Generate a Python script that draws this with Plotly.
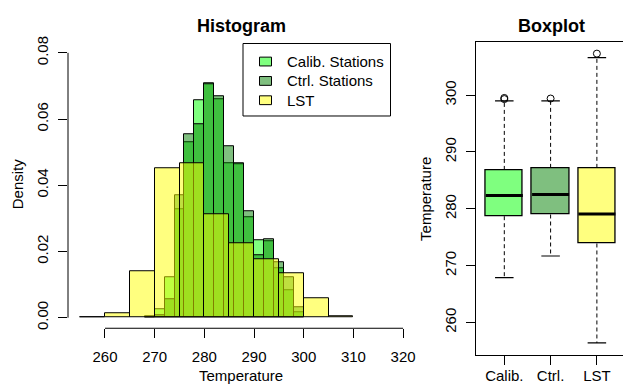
import plotly.graph_objects as go

# ---------------- data ----------------
green_bins = [268, 270, 272, 274, 276, 278, 280, 282, 284, 286, 288, 290, 292, 294, 296, 298]
green_width = 2
calib_density = [0.0003, 0.0025, 0.0122, 0.0329, 0.0530, 0.0656, 0.0707, 0.0660,
                 0.0468, 0.0463, 0.0303, 0.0233, 0.0232, 0.0150, 0.0082, 0.0015]
ctrl_density = [0.0, 0.0008, 0.0057, 0.0369, 0.0554, 0.0585, 0.0705, 0.0668,
                0.0517, 0.0465, 0.0320, 0.0190, 0.0237, 0.0168, 0.0121, 0.0030]
lst_bins = [255, 260, 265, 270, 275, 280, 285, 290, 295, 300, 305]
lst_width = 5
lst_density = [0.0001, 0.0013, 0.0139, 0.0450, 0.0467, 0.0312, 0.0224, 0.0177, 0.0133, 0.0060, 0.0003]

hist_xticks = [260, 270, 280, 290, 300, 310, 320]
hist_yticks = [0.00, 0.02, 0.04, 0.06, 0.08]

box_names = ["Calib.", "Ctrl.", "LST"]
box_lower = [267.9, 271.7, 256.4]
box_q1 = [278.7, 279.0, 273.9]
box_median = [282.35, 282.5, 279.1]
box_q3 = [286.84, 287.2, 287.2]
box_upper = [299.0, 299.0, 306.6]
box_outliers = [[299.3, 299.5], [299.4], [307.3]]
box_yticks = [260, 270, 280, 290, 300]

legend_names = ["Calib. Stations", "Ctrl. Stations", "LST"]
colors = ["rgba(0,255,0,0.5)", "rgba(0,128,0,0.5)", "rgba(255,255,0,0.5)"]

W, H = 623, 390
FONT = "Liberation Sans, Arial, sans-serif"


def px_x(p):
    return p / W


def px_y(p):
    return 1 - p / H


fig = go.Figure()

# ---------------- histogram ----------------
for bins, width, dens, name, col in [
    (green_bins, green_width, calib_density, legend_names[0], colors[0]),
    (green_bins, green_width, ctrl_density, legend_names[1], colors[1]),
    (lst_bins, lst_width, lst_density, legend_names[2], colors[2]),
]:
    fig.add_trace(go.Bar(
        x=[b + width / 2 for b in bins], y=dens, width=width,
        marker=dict(color=col, line=dict(color="black", width=1)),
        name=name, showlegend=False, xaxis="x", yaxis="y", hoverinfo="skip"))

# ---------------- boxplot ----------------
pos = [i + 1 for i in range(len(box_names))]
box_w = 0.8
cap_w = 0.4
fig.add_trace(go.Bar(
    x=pos, base=box_q1, y=[q3 - q1 for q1, q3 in zip(box_q1, box_q3)], width=box_w,
    marker=dict(color=colors, line=dict(color="black", width=1.3)),
    showlegend=False, xaxis="x2", yaxis="y2", hoverinfo="skip"))

wx, wy = [], []
for p, lo, q1, q3, up in zip(pos, box_lower, box_q1, box_q3, box_upper):
    wx += [p, p, None, p, p, None]
    wy += [q3, up, None, q1, lo, None]
fig.add_trace(go.Scatter(x=wx, y=wy, mode="lines",
                         line=dict(color="black", width=1, dash="4px,3px"),
                         showlegend=False, xaxis="x2", yaxis="y2", hoverinfo="skip"))

cx, cy = [], []
for p, lo, up in zip(pos, box_lower, box_upper):
    cx += [p - cap_w / 2, p + cap_w / 2, None, p - cap_w / 2, p + cap_w / 2, None]
    cy += [up, up, None, lo, lo, None]
fig.add_trace(go.Scatter(x=cx, y=cy, mode="lines", line=dict(color="black", width=1.2),
                         showlegend=False, xaxis="x2", yaxis="y2", hoverinfo="skip"))

mx, my = [], []
for p, m in zip(pos, box_median):
    mx += [p - box_w / 2, p + box_w / 2, None]
    my += [m, m, None]
fig.add_trace(go.Scatter(x=mx, y=my, mode="lines", line=dict(color="black", width=3),
                         showlegend=False, xaxis="x2", yaxis="y2", hoverinfo="skip"))

ox, oy = [], []
for p, outs in zip(pos, box_outliers):
    for o in outs:
        ox.append(p)
        oy.append(o)
fig.add_trace(go.Scatter(x=ox, y=oy, mode="markers",
                         marker=dict(symbol="circle-open", size=7, color="black", line=dict(width=1)),
                         showlegend=False, xaxis="x2", yaxis="y2", hoverinfo="skip"))

# ---------------- layout ----------------
tickfont = dict(family=FONT, size=15, color="black")
hist_dom_x = [px_x(68), px_x(416)]
hist_dom_y = [px_y(329), px_y(37)]
box_dom_x = [px_x(475.6), 1.0]
box_dom_y = [px_y(356.5), px_y(37)]

fig.update_layout(
    width=W, height=H, margin=dict(l=0, r=0, t=0, b=0),
    paper_bgcolor="white", plot_bgcolor="white",
    barmode="overlay", bargap=0,
    font=dict(family=FONT, size=15, color="black"),
    showlegend=False,
    xaxis=dict(domain=hist_dom_x, range=[252.56, 322.6], anchor="y",
               tickvals=hist_xticks, ticks="outside", ticklen=9, tickcolor="black",
               showline=False, showgrid=False, zeroline=False, tickfont=tickfont,
               ticklabelstandoff=6),
    yaxis=dict(domain=hist_dom_y, range=[-0.0032, 0.0832], anchor="x",
               tickvals=hist_yticks, tickformat=".2f", ticks="outside", ticklen=9,
               tickcolor="black", tickangle=-90, showline=False, showgrid=False,
               zeroline=False, tickfont=tickfont, ticklabelstandoff=4),
    xaxis2=dict(domain=box_dom_x, range=[0.38, 3.564], anchor="y2",
                tickvals=pos, ticktext=box_names, ticks="outside", ticklen=9,
                tickcolor="black", showline=True, linecolor="black", linewidth=1,
                mirror=True, showgrid=False, zeroline=False, tickfont=tickfont,
                ticklabelstandoff=-2),
    yaxis2=dict(domain=box_dom_y, range=[254.25, 309.3], anchor="x2",
                tickvals=box_yticks, ticks="outside", ticklen=9, tickcolor="black",
                tickangle=-90, showline=True, linecolor="black", linewidth=1,
                mirror=False, showgrid=False, zeroline=False, tickfont=tickfont,
                ticklabelstandoff=4),
)

# R-style axis lines spanning first to last tick only
fig.add_shape(type="line", xref="x", yref="paper", x0=hist_xticks[0], x1=hist_xticks[-1],
              y0=hist_dom_y[0], y1=hist_dom_y[0], line=dict(color="black", width=1))
fig.add_shape(type="line", xref="paper", yref="y", x0=hist_dom_x[0], x1=hist_dom_x[0],
              y0=hist_yticks[0], y1=hist_yticks[-1], line=dict(color="black", width=1))

# R-style legend box
fig.add_shape(type="rect", xref="paper", yref="paper",
              x0=px_x(243), x1=px_x(390.5), y0=px_y(112.3), y1=px_y(38.3),
              line=dict(color="black", width=1), fillcolor="white", layer="above")
leg_rows = [56.7, 76.5, 96.2]
for row, name, col in zip(leg_rows, legend_names, colors):
    fig.add_shape(type="rect", xref="paper", yref="paper",
                  x0=px_x(259.5), x1=px_x(271.5), y0=px_y(row + 4.5), y1=px_y(row - 4.5),
                  line=dict(color="black", width=1), fillcolor=col, layer="above")
    fig.add_annotation(text=name, x=px_x(284.5), y=px_y(row), xref="paper", yref="paper",
                       xanchor="left", yanchor="middle", showarrow=False,
                       font=dict(family=FONT, size=15, color="black"))

# titles and axis titles
ann = [
    dict(text="<b>Histogram</b>", x=px_x(241), y=px_y(20), size=18, angle=0),
    dict(text="<b>Boxplot</b>", x=px_x(551), y=px_y(20), size=18, angle=0),
    dict(text="Temperature", x=px_x(241), y=px_y(377.7), size=15, angle=0),
    dict(text="Density", x=px_x(17), y=px_y(182), size=15, angle=-90),
    dict(text="Temperature", x=px_x(426), y=px_y(197), size=15, angle=-90),
]
for a in ann:
    fig.add_annotation(text=a["text"], x=a["x"], y=a["y"], xref="paper", yref="paper",
                       xanchor="center", yanchor="middle", showarrow=False,
                       textangle=a["angle"], font=dict(family=FONT, size=a["size"], color="black"))

fig.write_html("out.html")
